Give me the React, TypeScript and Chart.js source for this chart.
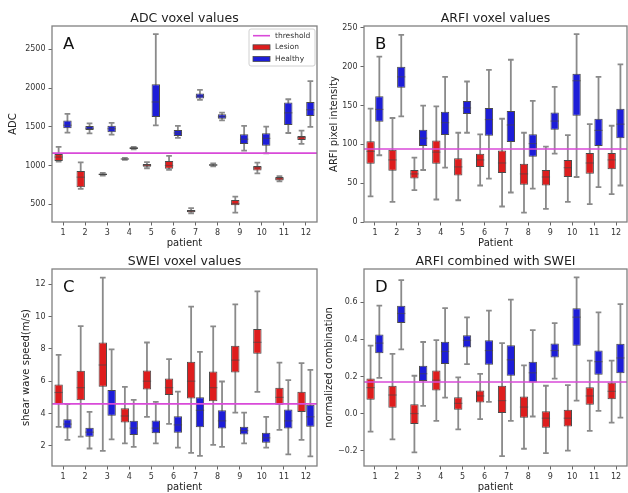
import React, { useEffect, useRef } from 'react';
import { Chart, registerables } from 'chart.js';

Chart.register(...registerables);
Chart.defaults.font.family = '"DejaVu Sans", sans-serif';
Chart.defaults.color = '#333';

type Stat = [number, number, number, number, number]; // [min, q1, median, q3, max]

const PATIENTS = [1, 2, 3, 4, 5, 6, 7, 8, 9, 10, 11, 12];
const X_RANGE = [0.5, 12.5];

// ---- A: ADC voxel values ----
const ADC_LESION: Stat[] = [
  [1050, 1060, 1110, 1150, 1240],
  [698, 720, 850, 930, 1042],
  [870, 878, 885, 898, 905],
  [1072, 1078, 1085, 1092, 1098],
  [965, 985, 1003, 1020, 1045],
  [945, 960, 1000, 1060, 1125],
  [385, 398, 412, 428, 450],
  [990, 998, 1008, 1018, 1028],
  [393, 487, 510, 556, 600],
  [900, 935, 970, 995, 1038],
  [795, 806, 828, 853, 862],
  [1280, 1330, 1360, 1382, 1450],
];
const ADC_HEALTHY: Stat[] = [
  [1425, 1481, 1520, 1580, 1666],
  [1416, 1459, 1480, 1511, 1545],
  [1399, 1429, 1475, 1515, 1550],
  [1210, 1215, 1225, 1235, 1240],
  [1519, 1627, 1820, 2048, 2694],
  [1356, 1382, 1420, 1459, 1511],
  [1846, 1864, 1895, 1928, 1975],
  [1584, 1605, 1630, 1661, 1683],
  [1192, 1279, 1340, 1403, 1511],
  [1158, 1257, 1350, 1416, 1502],
  [1420, 1524, 1680, 1812, 1855],
  [1500, 1640, 1720, 1820, 2090],
];
const ADC_THRESHOLD = 1160;
const ADC_TICKS = [500, 1000, 1500, 2000, 2500];
const ADC_RANGE = [272, 2800];

// ---- B: ARFI voxel values ----
const ARFI_LESION: Stat[] = [
  [33, 75, 91, 104, 146],
  [26, 66, 80, 93, 134],
  [41, 56, 62, 67, 83],
  [29, 75, 90, 105, 149],
  [28, 60, 71, 82, 115],
  [47, 71, 80, 88, 113],
  [20, 63, 76, 92, 133],
  [12, 48, 62, 75, 115],
  [17, 47, 58, 67, 97],
  [26, 58, 70, 80, 112],
  [23, 62, 76, 89, 126],
  [36, 68, 80, 89, 124],
];
const ARFI_HEALTHY: Stat[] = [
  [86, 129, 145, 162, 213],
  [136, 173, 187, 200, 241],
  [67, 98, 108, 119, 150],
  [70, 112, 128, 142, 187],
  [115, 139, 147, 156, 181],
  [56, 111, 132, 147, 196],
  [38, 103, 125, 143, 209],
  [43, 84, 101, 113, 156],
  [88, 119, 130, 141, 174],
  [58, 137, 182, 191, 242],
  [45, 98, 118, 133, 187],
  [47, 108, 126, 146, 203],
];
const ARFI_THRESHOLD = 94;
const ARFI_TICKS = [0, 50, 100, 150, 200, 250];
const ARFI_RANGE = [0, 252.5];

// ---- C: SWEI voxel values ----
const SWEI_LESION: Stat[] = [
  [3.18, 4.58, 5.3, 5.79, 7.63],
  [2.58, 4.82, 5.6, 6.64, 9.4],
  [1.7, 5.65, 7.0, 8.39, 12.4],
  [2.16, 3.44, 3.85, 4.33, 5.65],
  [3.8, 5.48, 6.0, 6.66, 8.39],
  [3.36, 5.15, 5.6, 6.16, 7.36],
  [1.57, 4.93, 6.0, 7.2, 10.6],
  [2.06, 4.76, 5.6, 6.6, 9.38],
  [4.06, 6.54, 7.3, 8.19, 10.74],
  [5.34, 7.69, 8.4, 9.22, 11.55],
  [2.99, 4.54, 5.0, 5.59, 7.15],
  [2.37, 4.1, 4.6, 5.34, 7.11],
];
const SWEI_HEALTHY: Stat[] = [
  [2.37, 3.07, 3.35, 3.65, 4.58],
  [1.84, 2.56, 2.85, 3.13, 4.1],
  [2.41, 3.86, 4.6, 5.45, 7.96],
  [1.94, 2.68, 3.1, 3.55, 4.85],
  [2.16, 2.78, 3.1, 3.57, 4.72],
  [1.9, 2.82, 3.3, 3.84, 5.36],
  [1.38, 3.15, 4.2, 5.0, 7.81],
  [1.94, 3.07, 3.55, 4.2, 5.98],
  [2.16, 2.7, 2.95, 3.18, 4.06],
  [1.9, 2.2, 2.5, 2.82, 3.8],
  [1.48, 3.07, 3.55, 4.25, 6.06],
  [1.36, 3.18, 3.8, 4.54, 6.7],
];
const SWEI_THRESHOLD = 4.6;
const SWEI_TICKS = [2, 4, 6, 8, 10, 12];
const SWEI_RANGE = [0.76, 12.93];

// ---- D: ARFI combined with SWEI ----
const COMB_LESION: Stat[] = [
  [-0.097, 0.074, 0.14, 0.189, 0.366],
  [-0.139, 0.031, 0.1, 0.15, 0.322],
  [-0.21, -0.056, 0.0, 0.05, 0.204],
  [-0.04, 0.124, 0.18, 0.232, 0.396],
  [-0.085, 0.02, 0.055, 0.088, 0.195],
  [-0.03, 0.059, 0.095, 0.124, 0.214],
  [-0.23, 0.0, 0.07, 0.15, 0.38],
  [-0.19, -0.022, 0.035, 0.092, 0.26],
  [-0.214, -0.076, -0.025, 0.013, 0.15],
  [-0.2, -0.07, -0.025, 0.02, 0.153],
  [-0.094, 0.047, 0.095, 0.142, 0.286],
  [-0.049, 0.077, 0.12, 0.167, 0.286],
];
const COMB_HEALTHY: Stat[] = [
  [0.193, 0.326, 0.38, 0.427, 0.582],
  [0.346, 0.488, 0.54, 0.582, 0.72],
  [0.041, 0.175, 0.215, 0.258, 0.386],
  [0.086, 0.268, 0.335, 0.387, 0.569],
  [0.267, 0.357, 0.395, 0.423, 0.519],
  [0.063, 0.263, 0.34, 0.395, 0.555],
  [-0.04, 0.204, 0.29, 0.369, 0.615],
  [-0.016, 0.168, 0.22, 0.279, 0.45],
  [0.189, 0.303, 0.34, 0.378, 0.488],
  [0.07, 0.366, 0.52, 0.568, 0.735],
  [0.014, 0.21, 0.28, 0.34, 0.546],
  [-0.022, 0.218, 0.3, 0.376, 0.591],
];
const COMB_THRESHOLD = 0.17;
const COMB_TICKS = [-0.2, 0.0, 0.2, 0.4, 0.6];
const COMB_RANGE = [-0.283, 0.78];

const SERIES_NAMES = ['Lesion', 'Healthy', 'threshold'];

// ---- styles ----
const RED = '#de1d1d';
const BLUE = '#1d1dd8';
const EDGE = '#4a4a4a';
const WHISKER = '#8a8a8a';
const MAGENTA = '#d94ad9';
const FRAME = '#808080';
const GROUP_SHIFT = 0.2; // half distance between the Lesion and Healthy boxes of one patient

interface Spec {
  letter: string;
  title: string;
  xLabel: string;
  yLabel: string;
  lesion: Stat[];
  healthy: Stat[];
  threshold: number;
  ticks: number[];
  range: number[];
  fmt: (v: number) => string;
  box: { x: number; y: number; w: number; h: number };
  area: { left: number; top: number; right: number; bottom: number };
  yTitlePad: number;
  xTitlePad: number;
  legend: boolean;
}

const plain = (v: number) => String(v);
const oneDec = (v: number) => v.toFixed(1).replace('-', '\u2212');

const PANELS: Spec[] = [
  {
    letter: 'A', title: 'ADC voxel values', xLabel: 'patient', yLabel: 'ADC',
    lesion: ADC_LESION, healthy: ADC_HEALTHY, threshold: ADC_THRESHOLD,
    ticks: ADC_TICKS, range: ADC_RANGE, fmt: plain,
    box: { x: 0, y: 0, w: 322, h: 252 },
    area: { left: 52, top: 26, right: 317, bottom: 222 },
    yTitlePad: 7, xTitlePad: 2.5, legend: true,
  },
  {
    letter: 'B', title: 'ARFI voxel values', xLabel: 'Patient', yLabel: 'ARFI pixel intensity',
    lesion: ARFI_LESION, healthy: ARFI_HEALTHY, threshold: ARFI_THRESHOLD,
    ticks: ARFI_TICKS, range: ARFI_RANGE, fmt: plain,
    box: { x: 316, y: 0, w: 312, h: 252 },
    area: { left: 48, top: 26, right: 311, bottom: 222 },
    yTitlePad: 12.7, xTitlePad: 2.5, legend: false,
  },
  {
    letter: 'C', title: 'SWEI voxel values', xLabel: 'patient', yLabel: 'shear wave speed(m/s)',
    lesion: SWEI_LESION, healthy: SWEI_HEALTHY, threshold: SWEI_THRESHOLD,
    ticks: SWEI_TICKS, range: SWEI_RANGE, fmt: plain,
    box: { x: 0, y: 246, w: 322, h: 247 },
    area: { left: 52, top: 23, right: 317, bottom: 220 },
    yTitlePad: 20.7, xTitlePad: 0, legend: false,
  },
  {
    letter: 'D', title: 'ARFI combined with SWEI', xLabel: 'patient', yLabel: 'normalized combination',
    lesion: COMB_LESION, healthy: COMB_HEALTHY, threshold: COMB_THRESHOLD,
    ticks: COMB_TICKS, range: COMB_RANGE, fmt: oneDec,
    box: { x: 316, y: 246, w: 312, h: 247 },
    area: { left: 48, top: 23, right: 311, bottom: 220 },
    yTitlePad: 7, xTitlePad: 0, legend: false,
  },
];

function makePlugin(spec: Spec) {
  return {
    id: 'boxExtras' + spec.letter,
    beforeDatasetsDraw(chart: any) {
      const { ctx } = chart;
      const ys = chart.scales.y;
      ctx.save();
      ctx.strokeStyle = WHISKER;
      ctx.lineWidth = 1.8;
      [spec.lesion, spec.healthy].forEach((stats, di) => {
        const meta = chart.getDatasetMeta(di);
        meta.data.forEach((el: any, i: number) => {
          const s = stats[i];
          const x = el.x;
          const half = el.width * 0.34;
          const lo = ys.getPixelForValue(s[0]);
          const hi = ys.getPixelForValue(s[4]);
          ctx.beginPath();
          ctx.moveTo(x, lo);
          ctx.lineTo(x, hi);
          ctx.moveTo(x - half, lo);
          ctx.lineTo(x + half, lo);
          ctx.moveTo(x - half, hi);
          ctx.lineTo(x + half, hi);
          ctx.stroke();
        });
      });
      ctx.restore();
    },
    afterDatasetDraw(chart: any, args: any) {
      if (args.index > 1) return;
      const stats = args.index === 0 ? spec.lesion : spec.healthy;
      const { ctx } = chart;
      const ys = chart.scales.y;
      const meta = chart.getDatasetMeta(args.index);
      ctx.save();
      ctx.strokeStyle = 'rgba(70,70,70,0.55)';
      ctx.lineWidth = 1.2;
      meta.data.forEach((el: any, i: number) => {
        const m = ys.getPixelForValue(stats[i][2]);
        ctx.beginPath();
        ctx.moveTo(el.x - el.width / 2, m);
        ctx.lineTo(el.x + el.width / 2, m);
        ctx.stroke();
      });
      ctx.restore();
    },
    afterDraw(chart: any) {
      const { ctx, chartArea: a } = chart;
      ctx.save();
      ctx.strokeStyle = FRAME;
      ctx.lineWidth = 1.3;
      ctx.strokeRect(a.left, a.top, a.right - a.left, a.bottom - a.top);

      ctx.fillStyle = '#222';
      ctx.font = '12.5px "DejaVu Sans", sans-serif';
      ctx.textAlign = 'center';
      ctx.textBaseline = 'alphabetic';
      ctx.fillText(spec.title, (a.left + a.right) / 2, a.top - 4.5);

      ctx.font = '16.5px "DejaVu Sans", sans-serif';
      ctx.textAlign = 'left';
      ctx.fillStyle = '#111';
      ctx.fillText(spec.letter, a.left + 11, a.top + 23);

      if (spec.legend) {
        const ds = chart.data.datasets;
        const x0 = a.right - 68;
        const y0 = a.top + 3;
        ctx.fillStyle = 'rgba(255,255,255,0.85)';
        ctx.strokeStyle = '#d0d0d0';
        ctx.lineWidth = 1;
        ctx.beginPath();
        (ctx as any).roundRect(x0, y0, 66, 37, 2);
        ctx.fill();
        ctx.stroke();
        ctx.font = '7.5px "DejaVu Sans", sans-serif';
        ctx.textBaseline = 'middle';
        const rows = [ds[2], ds[0], ds[1]];
        rows.forEach((d: any, r: number) => {
          const cy = y0 + 6.7 + r * 11.6;
          if (d.type === 'line') {
            ctx.strokeStyle = d.borderColor;
            ctx.lineWidth = 1.6;
            ctx.beginPath();
            ctx.moveTo(x0 + 4, cy);
            ctx.lineTo(x0 + 21, cy);
            ctx.stroke();
          } else {
            ctx.fillStyle = d.backgroundColor;
            ctx.fillRect(x0 + 4, cy - 2.5, 17, 5);
            ctx.strokeStyle = EDGE;
            ctx.lineWidth = 0.8;
            ctx.strokeRect(x0 + 4, cy - 2.5, 17, 5);
          }
          ctx.fillStyle = '#333';
          ctx.textAlign = 'left';
          ctx.fillText(d.label, x0 + 26, cy);
        });
      }
      ctx.restore();
    },
  };
}

function buildConfig(spec: Spec): any {
  const barCommon = {
    borderColor: EDGE,
    borderWidth: 1,
    borderSkipped: false,
    grouped: false,
    categoryPercentage: 1,
    barPercentage: 0.95,
    order: 1,
  };
  const tickGrid = {
    drawOnChartArea: false,
    drawTicks: true,
    tickLength: 3.5,
    tickColor: '#666',
    tickWidth: 1,
  };
  return {
    type: 'bar',
    data: {
      datasets: [
        {
          ...barCommon,
          label: SERIES_NAMES[0],
          data: spec.lesion.map((s, i) => ({ x: PATIENTS[i] - GROUP_SHIFT, y: [s[1], s[3]] })),
          backgroundColor: RED,
        },
        {
          ...barCommon,
          label: SERIES_NAMES[1],
          data: spec.healthy.map((s, i) => ({ x: PATIENTS[i] + GROUP_SHIFT, y: [s[1], s[3]] })),
          backgroundColor: BLUE,
        },
        {
          type: 'line',
          label: SERIES_NAMES[2],
          data: [
            { x: X_RANGE[0], y: spec.threshold },
            { x: X_RANGE[1], y: spec.threshold },
          ],
          borderColor: MAGENTA,
          borderWidth: 1.6,
          pointRadius: 0,
          order: 0,
        },
      ],
    },
    options: {
      responsive: false,
      animation: false,
      events: [],
      layout: {
        padding: { left: 0, top: spec.area.top, right: spec.box.w - spec.area.right, bottom: 0 },
      },
      plugins: {
        legend: { display: false },
        title: { display: false },
        tooltip: { enabled: false },
      },
      scales: {
        x: {
          type: 'linear',
          offset: false,
          min: X_RANGE[0],
          max: X_RANGE[1],
          afterBuildTicks: (s: any) => {
            s.ticks = PATIENTS.map((v) => ({ value: v }));
          },
          grid: { ...tickGrid, offset: false },
          border: { display: false },
          ticks: {
            font: { size: 8 },
            color: '#333',
            padding: 3,
            maxRotation: 0,
            autoSkip: false,
            callback: (v: any) => String(v),
          },
          title: {
            display: true,
            text: spec.xLabel,
            font: { size: 10 },
            color: '#222',
            padding: { top: 0, bottom: spec.xTitlePad },
          },
          afterFit: (s: any) => {
            s.height = spec.box.h - spec.area.bottom;
          },
        },
        y: {
          type: 'linear',
          min: spec.range[0],
          max: spec.range[1],
          afterBuildTicks: (s: any) => {
            s.ticks = spec.ticks.map((v) => ({ value: v }));
          },
          grid: tickGrid,
          border: { display: false },
          ticks: {
            font: { size: 8 },
            color: '#333',
            padding: 3,
            callback: (v: any) => spec.fmt(Number(v)),
          },
          title: {
            display: true,
            text: spec.yLabel,
            font: { size: 10 },
            color: '#222',
            padding: { top: spec.yTitlePad, bottom: 0 },
          },
          afterFit: (s: any) => {
            s.width = spec.area.left;
          },
        },
      },
    },
    plugins: [makePlugin(spec)],
  };
}

function Panel({ spec }: { spec: Spec }) {
  const ref = useRef<HTMLCanvasElement>(null);
  useEffect(() => {
    const chart = new Chart(ref.current as HTMLCanvasElement, buildConfig(spec));
    return () => chart.destroy();
  }, [spec]);
  return (
    <canvas
      ref={ref}
      width={spec.box.w}
      height={spec.box.h}
      style={{ position: 'absolute', left: spec.box.x, top: spec.box.y, width: spec.box.w, height: spec.box.h }}
    />
  );
}

export default function App() {
  return (
    <div
      style={{
        position: 'fixed',
        left: 0,
        top: 0,
        width: 628,
        height: 493,
        background: '#fff',
        overflow: 'hidden',
      }}
    >
      {PANELS.map((p) => (
        <Panel key={p.letter} spec={p} />
      ))}
    </div>
  );
}
